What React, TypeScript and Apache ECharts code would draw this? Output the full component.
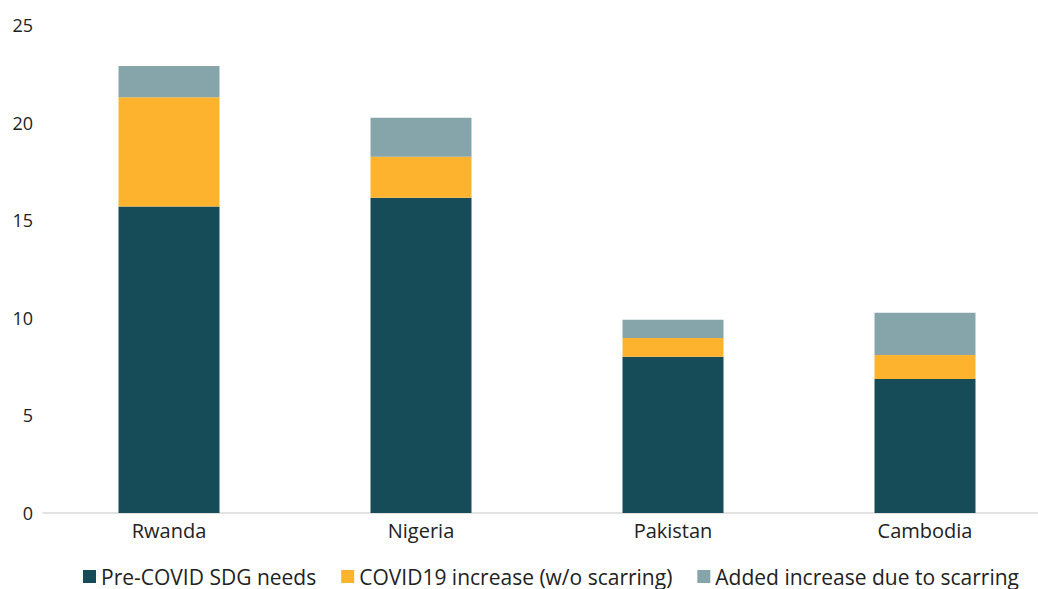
import React, { useEffect, useRef } from "react";
import * as echarts from "echarts";

const categories = ["Rwanda", "Nigeria", "Pakistan", "Cambodia"];
const preCovid = [15.7, 16.15, 8.0, 6.87];
const covidIncrease = [5.6, 2.1, 0.97, 1.23];
const scarring = [1.6, 2.0, 0.93, 2.16];
const seriesNames = ["Pre-COVID SDG needs", "COVID19 increase (w/o scarring)", "Added increase due to scarring"];
const colors = ["#164B58", "#FDB32D", "#86A5AB"];

export default function App() {
  const ref = useRef<HTMLDivElement>(null);
  useEffect(() => {
    const chart = echarts.init(ref.current!, null, { renderer: "svg" });
    const font = "'Open Sans', sans-serif";
    const data = [preCovid, covidIncrease, scarring];
    chart.setOption({
      animation: false,
      textStyle: { fontFamily: font },
      grid: { left: 43, top: 25, width: 1008, height: 488, containLabel: false },
      legend: {
        left: 78,
        top: 561,
        itemWidth: 13,
        itemHeight: 13,
        itemGap: 25,
        icon: "rect",
        textStyle: { fontSize: 21, color: "#222", fontFamily: font, lineHeight: 21 },
        data: seriesNames,
      },
      xAxis: {
        type: "category",
        data: categories,
        axisLine: { lineStyle: { color: "#d9d9d9", width: 1.5 } },
        axisTick: { show: false },
        axisLabel: { fontSize: 20, color: "#222", margin: 7, fontFamily: font },
      },
      yAxis: {
        type: "value",
        min: 0,
        max: 25,
        interval: 5,
        splitLine: { show: false },
        axisLine: { show: false },
        axisTick: { show: false },
        axisLabel: { fontSize: 18, color: "#222", margin: 10, fontFamily: font },
      },
      series: seriesNames.map((name, i) => ({
        name,
        type: "bar",
        stack: "total",
        barWidth: 101,
        data: data[i],
        itemStyle: { color: colors[i] },
      })),
    });
    return () => chart.dispose();
  }, []);
  return (
    <div style={{ position: "absolute", left: 0, top: 0, width: 1038, height: 589, overflow: "hidden" }}>
      <div ref={ref} style={{ width: 1060, height: 589 }} />
    </div>
  );
}
